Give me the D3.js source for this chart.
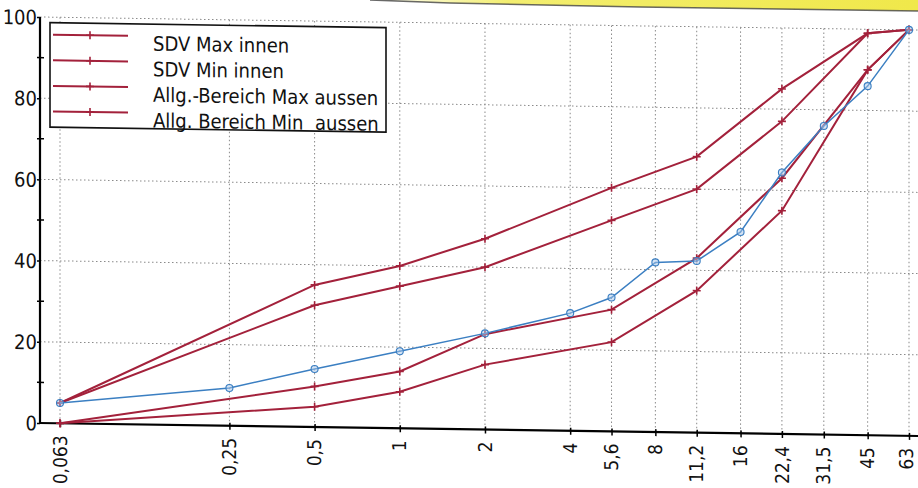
<!DOCTYPE html>
<html><head><meta charset="utf-8">
<script src="https://cdn.jsdelivr.net/npm/d3@7"></script>
<style>
body{margin:0;background:#fff;overflow:hidden}
svg{display:block}
text{font-family:"DejaVu Sans Condensed","DejaVu Sans",sans-serif;font-stretch:condensed;fill:#111}
</style></head><body>
<svg id="c" width="918" height="488"></svg>
<script>
// ---- data ----
const sieveSizes = [0.063,0.25,0.5,1,2,4,5.6,8,11.2,16,22.4,31.5,45,63];
const sieveLabels = ["0,063","0,25","0,5","1","2","4","5,6","8","11,2","16","22,4","31,5","45","63"];
const limitSizes = [0.063,0.5,1,2,5.6,11.2,22.4,45,63];
const sdvMaxInnen = [5,35,40,47,60,68,85,99,100];
const sdvMinInnen = [5,30,35,40,52,60,77,99,100];
const allgMaxAussen = [0,10,14,23.5,30,43,63,90,100];
const allgMinAussen = [0,5,9,16,22,35,55,90,100];
const sampleValues = [5,9.3,14.3,19,23.7,29,33,41.8,42.3,49.6,64.4,76,86,100];
const yTicks = [0,20,40,60,80,100];
const yMinorTicks = [10,30,50,70,90];
const seriesNames = ["SDV Max innen","SDV Min innen","Allg.-Bereich Max aussen","Allg. Bereich Min  aussen"];

const RED = "#a3213b", BLUE = "#3b7fc2";
const svg = d3.select("#c");

// yellow paper strip at top (scan artefact)
const grad = svg.append("defs").append("linearGradient").attr("id","yg")
  .attr("x1","0").attr("x2","1").attr("y1","0").attr("y2","0");
grad.append("stop").attr("offset","0").attr("stop-color","#fff");
grad.append("stop").attr("offset","0.25").attr("stop-color","#f3ee70");
grad.append("stop").attr("offset","1").attr("stop-color","#f0e84a");
svg.append("path").attr("d","M370,0 L918,0 L918,11 L640,7 L450,3 Z").attr("fill","url(#yg)");
svg.append("path").attr("d","M370,0 L450,3 L640,7 L918,11").attr("fill","none")
  .attr("stroke","#444").attr("stroke-width",1.6).attr("opacity",0.8);

const k = 0.0148;
const g = svg.append("g").attr("transform",`matrix(1,${k},0,1,0,${-40*k})`);

const x = d3.scaleLog().domain([0.063,63]).range([60,909]);
const y = d3.scaleLinear().domain([0,100]).range([423,17]);
const X0 = 40;

// grid
g.append("g").selectAll("line").data(sieveSizes).join("line")
  .attr("x1",d=>x(d)).attr("x2",d=>x(d)).attr("y1",y(100)).attr("y2",y(0))
  .attr("stroke","#8a8a8a").attr("stroke-width",1).attr("stroke-dasharray","1.5,2.5");
g.append("g").selectAll("line").data(yTicks.slice(1)).join("line")
  .attr("x1",X0).attr("x2",918).attr("y1",d=>y(d)).attr("y2",d=>y(d))
  .attr("stroke","#8a8a8a").attr("stroke-width",1).attr("stroke-dasharray","1.5,2.5");

// y axis
const ya = g.append("g").attr("transform",`translate(${X0},0)`)
  .call(d3.axisLeft(y).tickValues(yTicks).tickSize(3).tickPadding(3));
ya.select(".domain").remove();
ya.selectAll("text").attr("font-size",20).attr("dy","0.35em").attr("x",-3);
ya.selectAll("line").attr("stroke","#000").attr("stroke-width",1.5);
g.append("g").selectAll("line").data(yMinorTicks).join("line")
  .attr("x1",X0-3).attr("x2",X0+4).attr("y1",d=>y(d)).attr("y2",d=>y(d))
  .attr("stroke","#000").attr("stroke-width",1.5);
g.append("line").attr("x1",X0).attr("x2",X0).attr("y1",y(100)).attr("y2",y(0)+1)
  .attr("stroke","#000").attr("stroke-width",2.2);

// x axis
const xa = g.append("g").attr("transform",`translate(0,${y(0)})`)
  .call(d3.axisBottom(x).tickValues(sieveSizes).tickFormat((d,i)=>sieveLabels[i]).tickSize(4).tickPadding(3));
xa.select(".domain").remove();
xa.selectAll("line").attr("stroke","#000").attr("stroke-width",1.5).attr("y1",-3);
xa.selectAll("text").attr("font-size",19).attr("text-anchor","end")
  .attr("transform","rotate(-90)").attr("x",-12).attr("y",0)
  .attr("dy",(d,i)=> i===sieveSizes.length-1 ? "0.2em" : "0.32em");
g.append("line").attr("x1",X0-1).attr("x2",918).attr("y1",y(0)).attr("y2",y(0))
  .attr("stroke","#000").attr("stroke-width",2.2);

// lines
const line = d3.line().x(d=>x(d[0])).y(d=>y(d[1]));
const redSeries = [sdvMaxInnen,sdvMinInnen,allgMaxAussen,allgMinAussen];
redSeries.forEach(vals=>{
  const pts = limitSizes.map((s,i)=>[s,vals[i]]);
  g.append("path").attr("d",line(pts)).attr("fill","none").attr("stroke",RED).attr("stroke-width",2);
  g.append("g").selectAll("path").data(pts).join("path")
    .attr("d",d=>`M${x(d[0])-4},${y(d[1])}h8M${x(d[0])},${y(d[1])-4}v8`)
    .attr("stroke",RED).attr("stroke-width",1.6);
});
const samplePts = sieveSizes.map((s,i)=>[s,sampleValues[i]]);
g.append("path").attr("d",line(samplePts)).attr("fill","none").attr("stroke",BLUE).attr("stroke-width",1.5);
g.append("g").selectAll("circle").data(samplePts).join("circle")
  .attr("cx",d=>x(d[0])).attr("cy",d=>y(d[1])).attr("r",3.5)
  .attr("fill","#a9c8ea").attr("fill-opacity",0.5).attr("stroke",BLUE).attr("stroke-width",1.1);

// legend
const lg = g.append("g");
lg.append("rect").attr("x",50).attr("y",22.5).attr("width",336).attr("height",104.5)
  .attr("fill","#fff").attr("stroke","#111").attr("stroke-width",1.6);
seriesNames.forEach((n,i)=>{
  const ly = 34.5 + i*25.6;
  lg.append("line").attr("x1",53).attr("x2",128).attr("y1",ly).attr("y2",ly)
    .attr("stroke",RED).attr("stroke-width",2);
  lg.append("path").attr("d",`M86,${ly}h8M90,${ly-4}v8`).attr("stroke",RED).attr("stroke-width",1.6);
  lg.append("text").attr("x",153).attr("y",ly+14.5).attr("font-size",20)
    .style("white-space","pre").text(n);
});
</script>
</body></html>
